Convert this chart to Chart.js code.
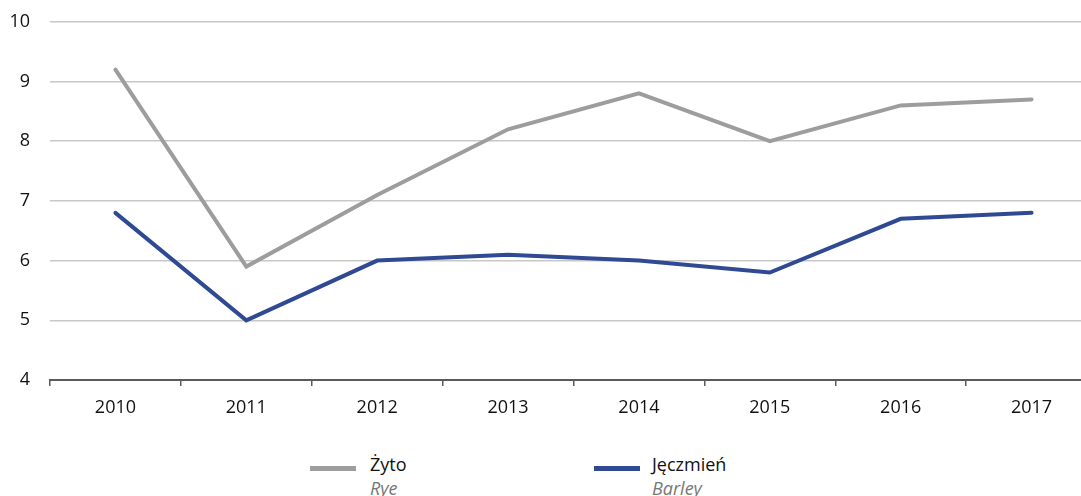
<!DOCTYPE html>
<html>
<head>
<meta charset="utf-8">
<script src="https://cdn.jsdelivr.net/npm/chart.js@4/dist/chart.umd.min.js"></script>
<style>
  html, body { margin: 0; padding: 0; background: #fff; overflow: hidden; width: 1081px; height: 496px; }
  #wrap { position: absolute; left: 0; top: -9px; width: 1097px; height: 439px; }
  .leg { position: absolute; font-family: "Open Sans", sans-serif; font-size: 18px; color: #111; line-height: 24px; }
  .leg i { display: block; color: #777; font-size: 18px; }
  .sw { position: absolute; height: 5px; width: 46px; }
</style>
</head>
<body>
<div id="wrap"><canvas id="myChart" width="1097" height="439"></canvas></div>
<div class="sw" style="left:310px; top:466px; background:#9d9d9d"></div>
<div class="leg" style="left:370px; top:452px">Żyto<i>Rye</i></div>
<div class="sw" style="left:594px; top:466px; background:#2f4a93"></div>
<div class="leg" style="left:652px; top:452px">Jęczmień<i>Barley</i></div>
<script>
// values
const years = ["2010", "2011", "2012", "2013", "2014", "2015", "2016", "2017"];
const rye = [9.2, 5.9, 7.1, 8.2, 8.8, 8.0, 8.6, 8.7];
const barley = [6.8, 5.0, 6.0, 6.1, 6.0, 5.8, 6.7, 6.8];
const yTicks = [4, 5, 6, 7, 8, 9, 10];

const font = { family: "'Open Sans', sans-serif", size: 18 };

new Chart("myChart", {
  type: "line",
  data: {
    labels: years,
    datasets: [
      { label: "Żyto", data: rye, borderColor: "#9d9d9d", borderWidth: 4, pointRadius: 0, tension: 0, borderCapStyle: "round", borderJoinStyle: "miter" },
      { label: "Jęczmień", data: barley, borderColor: "#2f4a93", borderWidth: 4, pointRadius: 0, tension: 0, borderCapStyle: "round", borderJoinStyle: "miter" }
    ]
  },
  options: {
    responsive: false,
    animation: false,
    layout: { padding: { top: 0, right: 0, left: 0, bottom: 0 } },
    plugins: { legend: { display: false }, tooltip: { enabled: false } },
    scales: {
      x: {
        offset: true,
        grid: { offset: true, drawOnChartArea: false, drawTicks: true, tickLength: 6, color: "#5a5a5a", lineWidth: 1.5 },
        border: { display: true, color: "#5a5a5a", width: 2 },
        ticks: { color: "#111", font: font, padding: 11, maxRotation: 0 },
        afterFit: s => { s.height = 50; }
      },
      y: {
        min: 4, max: 10,
        afterBuildTicks: s => { s.ticks = yTicks.map(v => ({ value: v })); },
        grid: { color: "#c8c8c8", lineWidth: 1.5, drawTicks: false },
        border: { display: false },
        ticks: { color: "#111", font: font, padding: 20 },
        afterFit: s => { s.width = 50; }
      }
    }
  }
});
</script>
</body>
</html>
